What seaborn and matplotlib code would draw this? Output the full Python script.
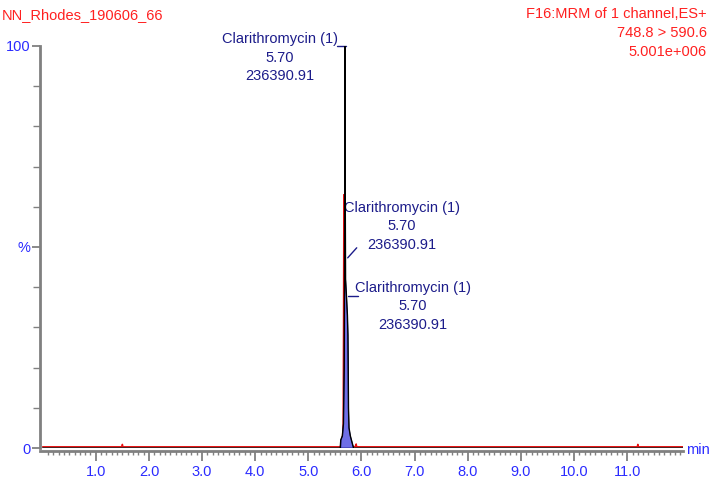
import matplotlib
matplotlib.use("Agg")
import matplotlib.pyplot as plt
import seaborn as sns
import pandas as pd
from matplotlib.ticker import MultipleLocator, FixedLocator

# Chromatogram traces (retention time in min, relative intensity in %)
black_time = [0.00, 5.60, 5.61, 5.64, 5.66, 5.675, 5.683, 5.690, 5.695, 5.700,
              5.720, 5.735, 5.745, 5.750, 5.755, 5.765, 5.790, 5.820, 5.850, 12.05]
black_pct = [0.0, 0.0, 2.0, 3.0, 6.0, 20.0, 55.0, 100.0, 60.0, 42.0,
             37.0, 33.0, 28.0, 20.0, 10.0, 5.0, 3.0, 1.5, 0.0, 0.0]

red_time = [0.00, 1.49, 1.50, 1.51, 5.60, 5.64, 5.655, 5.662, 5.668, 5.675,
            5.683, 5.700, 5.720, 5.800, 5.89, 5.90, 5.91, 11.19, 11.20, 11.21, 12.05]
red_pct = [0.3, 0.3, 0.9, 0.3, 0.3, 2.0, 6.0, 30.0, 63.0, 35.0,
           10.0, 4.0, 1.5, 0.5, 0.3, 1.0, 0.3, 0.3, 0.9, 0.3, 0.3]

# Integrated peak region
area_start, area_end = 5.61, 5.85

rt_label = "5.70"
area_label = "236390.91"
compound = "Clarithromycin (1)"

x_ticks = [1.0, 2.0, 3.0, 4.0, 5.0, 6.0, 7.0, 8.0, 9.0, 10.0, 11.0]
x_tick_labels = ["1.0", "2.0", "3.0", "4.0", "5.0", "6.0", "7.0", "8.0", "9.0", "10.0", "11.0"]
y_ticks = [0, 50, 100]
y_tick_labels = ["0", "%", "100"]

sample_name = "NN_Rhodes_190606_66"
channel_info = ["F16:MRM of 1 channel,ES+", "748.8 > 590.6", "5.001e+006"]

sns.set_style("white")
plt.rcParams["font.family"] = ["Liberation Sans", "DejaVu Sans"]

black_df = pd.DataFrame({"time": black_time, "pct": black_pct})
red_df = pd.DataFrame({"time": red_time, "pct": red_pct})

fig = plt.figure(figsize=(7.09, 4.79), dpi=100)
ax = fig.add_axes([40 / 709, 31 / 479, 643 / 709, 402 / 479])

sns.lineplot(data=red_df, x="time", y="pct", color="#e81010", linewidth=1.1,
             ax=ax, zorder=2, sort=False)

# Filled integration area under the black trace
area_df = black_df[(black_df.time >= area_start) & (black_df.time <= area_end)]
ax.fill_between(area_df.time, 0, area_df.pct, facecolor="#6f6fe6",
                edgecolor="#1c1c8a", hatch="::", linewidth=0.6, zorder=3)

sns.lineplot(data=black_df, x="time", y="pct", color="black", linewidth=1.0,
             ax=ax, zorder=4, sort=False)

ax.set_xlim(-0.05, 12.05)
ax.set_ylim(0, 100)
ax.set_xlabel("")
ax.set_ylabel("")

for side in ["top", "right"]:
    ax.spines[side].set_visible(False)
for side in ["left", "bottom"]:
    ax.spines[side].set_color("#808080")
    ax.spines[side].set_linewidth(2)
ax.spines["bottom"].set_position(("outward", 2))

tick_color = "#2b2bff"
ax.xaxis.set_major_locator(FixedLocator(x_ticks))
ax.set_xticklabels(x_tick_labels)
ax.xaxis.set_minor_locator(FixedLocator([i / 10 for i in range(1, 121)]))
ax.yaxis.set_major_locator(FixedLocator(y_ticks))
ax.set_yticklabels(y_tick_labels)
ax.yaxis.set_minor_locator(MultipleLocator(10))
ax.tick_params(axis="x", which="major", length=7, width=1.3, color="#808080",
               labelcolor=tick_color, labelsize=10.5, pad=3)
ax.tick_params(axis="x", which="minor", length=3, width=1.0, color="#808080")
ax.tick_params(axis="y", which="major", length=6, width=1.3, color="#808080",
               labelcolor=tick_color, labelsize=10.5, pad=1)
ax.tick_params(axis="y", which="minor", length=5, width=1.0, color="#808080")
ax.tick_params(which="both", bottom=True, left=True)

ax.text(1.005, -0.005, "min", transform=ax.transAxes, color=tick_color,
        fontsize=10.5, ha="left", va="center")

# Header text
fig.text(2 / 709, 1 - 15 / 479, sample_name, color="#ff2020", fontsize=10.5,
         ha="left", va="center")
for i, line in enumerate(channel_info):
    fig.text(1 - 2 / 709, 1 - (14 + 19 * i) / 479, line, color="#ff2020",
             fontsize=10.5, ha="right", va="center")

# Peak annotations
label_color = "#1c1c8a"


def peak_label(x, y, text_rt, text_area):
    ax.text(x, y, compound, color=label_color, fontsize=10.5, ha="center", va="center")
    ax.text(x, y - 4.6, text_rt, color=label_color, fontsize=10.5, ha="center", va="center")
    ax.text(x, y - 9.2, text_area, color=label_color, fontsize=10.5, ha="center", va="center")


peak_label(4.46, 101.7, rt_label, area_label)
ax.plot([5.54, 5.70], [100, 100], color=label_color, linewidth=1, clip_on=False)

peak_label(6.76, 59.7, rt_label, area_label)
ax.plot([5.74, 5.91], [47.3, 49.8], color=label_color, linewidth=1)

peak_label(6.97, 39.8, rt_label, area_label)
ax.plot([5.74, 5.93], [37.8, 37.8], color=label_color, linewidth=1)

fig.savefig("out.png", dpi=100)
